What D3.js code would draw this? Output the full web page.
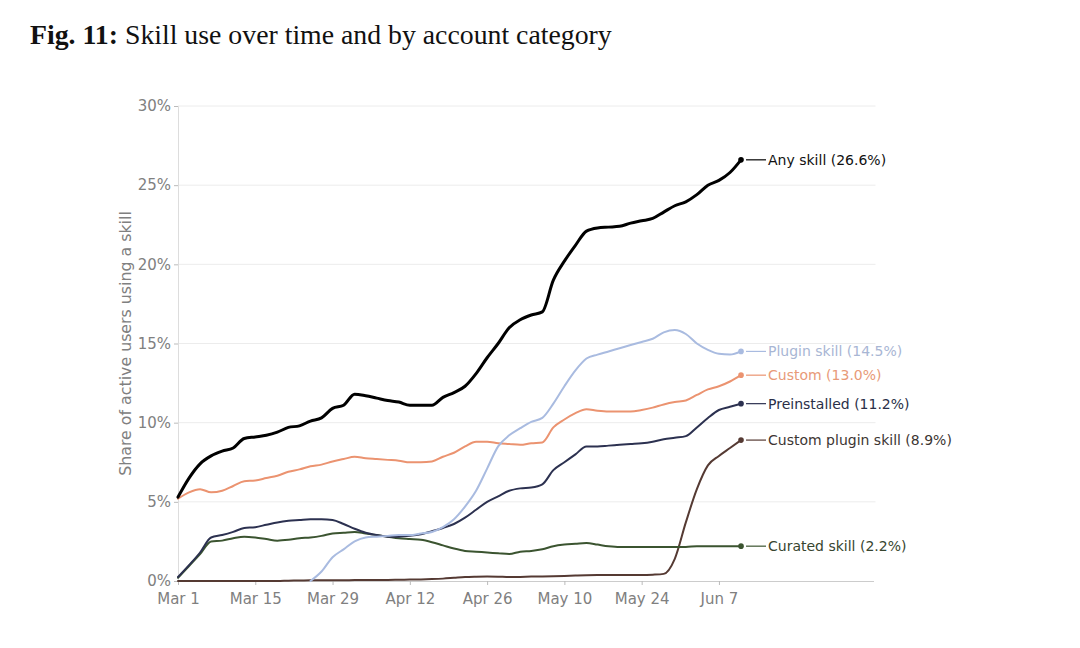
<!DOCTYPE html>
<html><head><meta charset="utf-8">
<script src="https://cdn.jsdelivr.net/npm/d3@7"></script>
<style>body{margin:0;background:#fff}</style>
</head><body><svg id="c" width="1080" height="648"></svg>
<script>
// ---------- DATA ----------
const startDate = "2025-03-01";
const dayOffsets = [0,2,4,6,8,10,12,14,16,18,20,22,24,26,28,30,32,34,36,38,40,42,44,46,48,50,52,54,56,58,60,62,64,66,68,70,72,74,76,78,80,82,84,86,88,90,92,94,96,98,100,102];

const anySkill = [5.3,6.5,7.4,7.9,8.2,8.4,9.0,9.1,9.2,9.4,9.7,9.8,10.1,10.3,10.9,11.1,11.8,11.7,11.55,11.4,11.3,11.1,11.1,11.1,11.6,11.9,12.3,13.1,14.1,15.0,16.0,16.5,16.8,17.0,19.0,20.2,21.2,22.1,22.3,22.35,22.4,22.6,22.75,22.9,23.3,23.7,23.95,24.4,25.0,25.3,25.8,26.6];
const pluginSkill = [null,null,null,null,null,null,null,null,null,null,null,null,0,0.6,1.5,2.0,2.5,2.75,2.8,2.85,2.9,2.9,3.0,3.1,3.4,3.9,4.7,5.7,7.1,8.5,9.2,9.65,10.05,10.3,11.2,12.3,13.3,14.05,14.3,14.5,14.7,14.9,15.1,15.3,15.7,15.85,15.6,15.0,14.6,14.35,14.3,14.5];
const custom = [5.2,5.6,5.8,5.6,5.7,6.0,6.3,6.35,6.5,6.65,6.9,7.05,7.25,7.35,7.55,7.7,7.85,7.75,7.7,7.65,7.6,7.5,7.5,7.55,7.85,8.1,8.5,8.8,8.8,8.7,8.65,8.6,8.7,8.75,9.7,10.2,10.6,10.85,10.75,10.7,10.7,10.7,10.8,10.95,11.15,11.3,11.4,11.75,12.1,12.3,12.6,13.0];
const preinstalled = [0.25,1.0,1.8,2.75,2.9,3.1,3.35,3.4,3.55,3.7,3.8,3.85,3.9,3.9,3.85,3.6,3.3,3.05,2.9,2.8,2.8,2.85,2.95,3.15,3.35,3.6,4.0,4.5,5.0,5.35,5.7,5.85,5.9,6.1,7.0,7.5,8.0,8.5,8.5,8.55,8.6,8.65,8.7,8.8,8.95,9.05,9.15,9.7,10.3,10.8,11.0,11.2];
const customPlugin = [0,0,0,0,0,0,0,0,0,0,0.02,0.03,0.05,0.05,0.05,0.05,0.06,0.06,0.07,0.07,0.08,0.09,0.1,0.12,0.15,0.2,0.25,0.27,0.28,0.27,0.25,0.26,0.28,0.29,0.3,0.32,0.35,0.37,0.38,0.38,0.38,0.38,0.38,0.4,0.45,1.4,3.7,5.8,7.3,7.9,8.4,8.9];
const curated = [0.2,0.95,1.7,2.5,2.55,2.7,2.8,2.75,2.65,2.55,2.6,2.7,2.75,2.85,3.0,3.05,3.1,3.0,2.9,2.8,2.7,2.65,2.6,2.45,2.25,2.05,1.9,1.85,1.8,1.75,1.7,1.85,1.9,2.0,2.2,2.3,2.35,2.4,2.3,2.2,2.15,2.15,2.15,2.15,2.15,2.15,2.15,2.2,2.2,2.2,2.2,2.2];

const seriesNames  = ["Any skill","Plugin skill","Custom","Preinstalled","Custom plugin skill","Curated skill"];
const labelValues  = [26.6,14.5,13.0,11.2,8.9,2.2];
const xTickDates   = ["2025-03-01","2025-03-15","2025-03-29","2025-04-12","2025-04-26","2025-05-10","2025-05-24","2025-06-07"];
const xTickLabels  = ["Mar 1","Mar 15","Mar 29","Apr 12","Apr 26","May 10","May 24","Jun 7"];
const yTicks       = [0,5,10,15,20,25,30];
const xDomainEnd   = "2025-07-05";

// ---------- STYLE ----------
const seriesValues = [anySkill,pluginSkill,custom,preinstalled,customPlugin,curated];
const lineColors  = ["#000000","#a9bbe0","#eb9370","#2c3150","#553a33","#3b5430"];
const labelColors = ["#111111","#a8b6d4","#e89a78","#2a2f48","#3d3633","#37452f"];
const lineWidths  = [3,2,2,2,2,2];
const drawOrder   = [4,5,3,2,1,0];

const parse = d3.timeParse("%Y-%m-%d");
const t0 = parse(startDate);
const dates = dayOffsets.map(d => d3.timeDay.offset(t0, d));

const svg = d3.select("#c");
const mLeft = 178, mRight = 873.5, mTop = 106, mBottom = 581;

const x = d3.scaleTime().domain([t0, parse(xDomainEnd)]).range([mLeft, mRight]);
const y = d3.scaleLinear().domain([0, 30]).range([mBottom, mTop]);

// Title
const title = svg.append("text").attr("x", 30).attr("y", 44)
  .attr("font-family", "'Liberation Serif','DejaVu Serif',serif").attr("font-size", 25).attr("fill", "#111");
title.append("tspan").attr("font-weight", "bold").text("Fig. 11:");
title.append("tspan").text(" Skill use over time and by account category");
const tw = title.node().getComputedTextLength();
title.attr("font-size", 25 * 582 / tw);

// Grid
svg.append("g").selectAll("line").data(yTicks.filter(v => v > 0)).join("line")
  .attr("x1", mLeft).attr("x2", mRight + 2)
  .attr("y1", d => y(d)).attr("y2", d => y(d))
  .attr("stroke", "#ececec").attr("stroke-width", 1);

// Y axis
const yAxis = svg.append("g").attr("transform", `translate(${mLeft},0)`)
  .call(d3.axisLeft(y).tickValues(yTicks).tickFormat(d => d + "%").tickSize(4).tickPadding(3));
yAxis.select(".domain").attr("stroke", "#dddddd");
yAxis.selectAll(".tick line").attr("stroke", "#bbbbbb");
yAxis.selectAll(".tick text").attr("fill", "#808080").attr("font-size", 15)
  .attr("font-family", "'DejaVu Sans',sans-serif");

// X axis
const xAxis = svg.append("g").attr("transform", `translate(0,${mBottom})`)
  .call(d3.axisBottom(x).tickValues(xTickDates.map(parse))
    .tickFormat((d, i) => xTickLabels[i]).tickSize(4).tickPadding(8).tickSizeOuter(0));
xAxis.select(".domain").attr("stroke", "#cccccc");
xAxis.selectAll(".tick line").attr("stroke", "#bbbbbb");
xAxis.selectAll(".tick text").attr("fill", "#808080").attr("font-size", 15)
  .attr("font-family", "'DejaVu Sans',sans-serif");

// Y axis title
svg.append("text").attr("transform", `translate(131,${(mTop + mBottom) / 2}) rotate(-90)`)
  .attr("text-anchor", "middle").attr("font-size", 15.8).attr("fill", "#808080")
  .attr("font-family", "'DejaVu Sans',sans-serif")
  .text("Share of active users using a skill");

// Lines
const line = d3.line()
  .defined(d => d.v !== null)
  .x(d => x(d.date)).y(d => y(d.v))
  .curve(d3.curveMonotoneX);

const g = svg.append("g");
drawOrder.forEach(i => {
  const pts = dates.map((date, k) => ({date, v: seriesValues[i][k]}));
  g.append("path").datum(pts).attr("d", line)
    .attr("fill", "none").attr("stroke", lineColors[i]).attr("stroke-width", lineWidths[i])
    .attr("stroke-linejoin", "round").attr("stroke-linecap", "round");
});

// End markers and labels
const lastDate = dates[dates.length - 1];
seriesNames.forEach((name, i) => {
  const vals = seriesValues[i];
  const v = vals[vals.length - 1];
  const cx = x(lastDate), cy = y(v);
  svg.append("circle").attr("cx", cx).attr("cy", cy).attr("r", 2.8).attr("fill", lineColors[i]);
  svg.append("line").attr("x1", cx + 5).attr("x2", cx + 25).attr("y1", cy).attr("y2", cy)
    .attr("stroke", lineColors[i]).attr("stroke-width", 1.2);
  svg.append("text").attr("x", cx + 27).attr("y", cy).attr("dy", "0.35em")
    .attr("font-size", 14).attr("font-family", "'DejaVu Sans',sans-serif")
    .attr("fill", labelColors[i])
    .text(`${name} (${labelValues[i].toFixed(1)}%)`);
});
</script></body></html>
